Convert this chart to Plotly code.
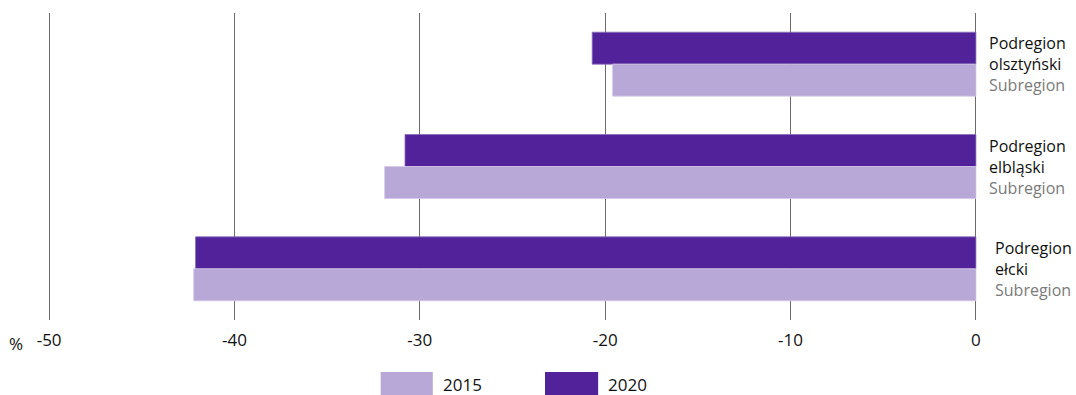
import plotly.graph_objects as go

# Subregions (top to bottom) and their values, in %
subregions = ["olsztyński", "elbląski", "ełcki"]
values_2015 = [-19.6, -31.9, -42.2]
values_2020 = [-20.7, -30.8, -42.1]
years = ["2015", "2020"]
x_ticks = [-50, -40, -30, -20, -10, 0]

color_2015 = "#b8a8d7"
color_2020 = "#52229a"
grid_color = "#6b6b6b"
font_family = "Open Sans, Noto Sans, sans-serif"
text_size = 17
label_size = 16

fig = go.Figure()
# With the reversed category axis the first trace sits on top of each group
fig.add_trace(go.Bar(
    y=subregions, x=values_2020, name=years[1], orientation="h",
    marker=dict(color=color_2020, line=dict(color="#8a6cbd", width=0.8)),
    showlegend=False,
))
fig.add_trace(go.Bar(
    y=subregions, x=values_2015, name=years[0], orientation="h",
    marker=dict(color=color_2015, line=dict(color="#d3c8e6", width=0.8)),
    showlegend=False,
))

# Category labels to the right of the zero line
annotations = []
for i, name in enumerate(subregions):
    indent = 0.017 if name == "ełcki" else 0.011
    annotations.append(dict(
        x=1 + indent, y=name, xref="paper", yref="y",
        xanchor="left", yanchor="middle", align="left", showarrow=False,
        text=f"Podregion<br>{name}<br><span style='color:#7a7a7a'>Subregion</span>",
        font=dict(size=label_size, color="#111111", family=font_family),
    ))

# Unit label next to the axis ticks
annotations.append(dict(
    x=-0.0345, y=-0.075, xref="paper", yref="paper", xanchor="center",
    yanchor="middle", showarrow=False, text="%",
    font=dict(size=text_size, color="#111111", family=font_family),
))

# Custom legend with wide swatches
shapes = []
legend_items = [(years[0], color_2015, 0.3581, 0.4142, 0.423),
                (years[1], color_2020, 0.535, 0.5922, 0.6005)]
for label, col, x0, x1, xt in legend_items:
    shapes.append(dict(type="rect", xref="paper", yref="paper",
                       x0=x0, x1=x1, y0=-0.2443, y1=-0.1694,
                       fillcolor=col, line=dict(width=0)))
    annotations.append(dict(
        x=xt, y=-0.2085, xref="paper", yref="paper", xanchor="left",
        yanchor="middle", showarrow=False, text=label,
        font=dict(size=text_size, color="#111111", family=font_family),
    ))

fig.update_layout(
    width=1076, height=395,
    margin=dict(l=48, r=99, t=13, b=75),
    paper_bgcolor="white", plot_bgcolor="white",
    barmode="group", bargap=0.375, bargroupgap=0,
    font=dict(family=font_family, size=text_size, color="#111111"),
    annotations=annotations, shapes=shapes,
    xaxis=dict(
        range=[-50.06, 0.06], tickvals=x_ticks, ticktext=[str(v) for v in x_ticks],
        showgrid=True, gridcolor=grid_color, gridwidth=1.2,
        zeroline=True, zerolinecolor=grid_color, zerolinewidth=1.2,
        showline=False, ticks="", ticklabelstandoff=8,
        tickfont=dict(size=text_size, color="#111111"),
    ),
    yaxis=dict(
        categoryorder="array", categoryarray=subregions, autorange="reversed",
        showticklabels=False, showgrid=False, zeroline=False, showline=False,
    ),
)

fig.write_html("out.html")
